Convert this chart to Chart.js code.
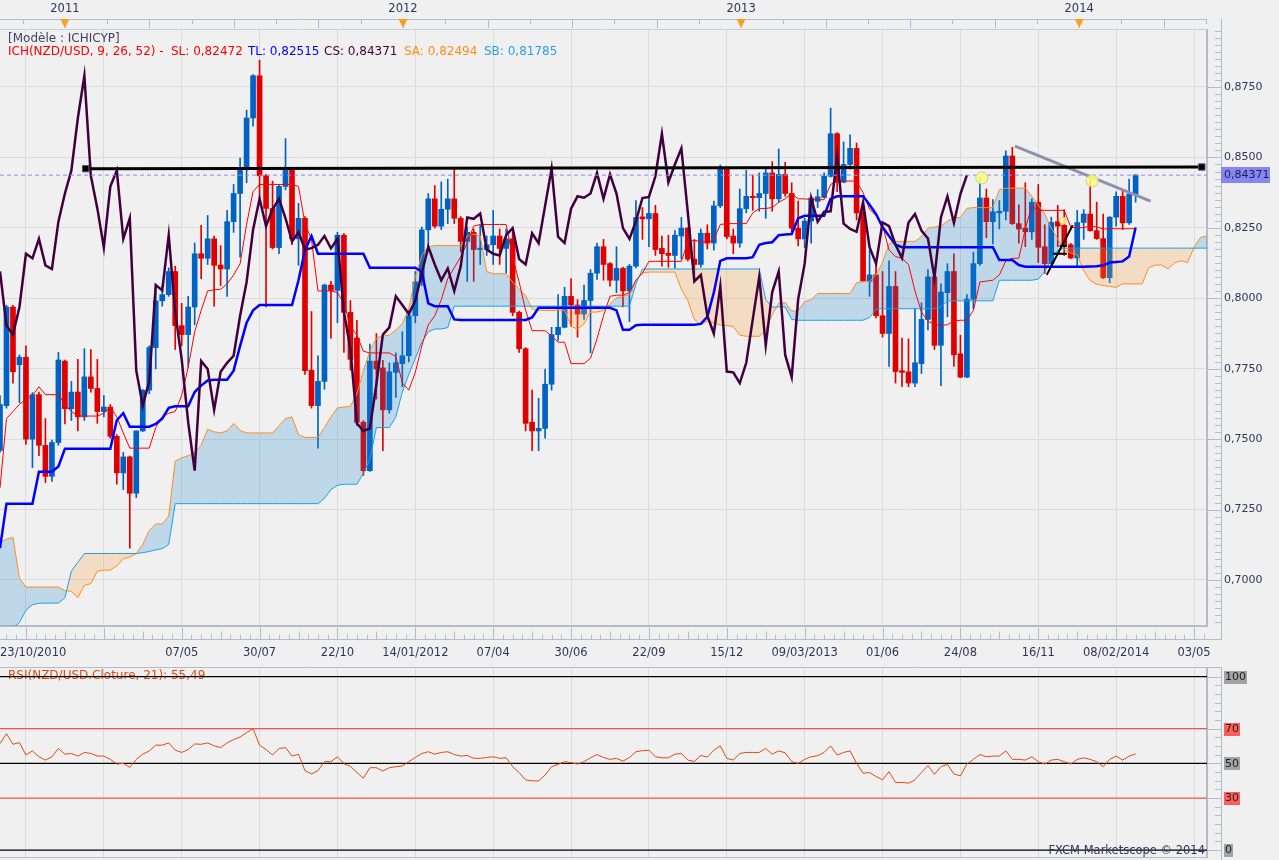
<!DOCTYPE html>
<html>
<head>
<meta charset="utf-8">
<script src="https://cdn.jsdelivr.net/npm/chart.js@4.4.1/dist/chart.umd.min.js"></script>
<style>
html, body { margin: 0; padding: 0; background: #f0f0f0; overflow: hidden; }
canvas { display: block; }
</style>
</head>
<body>
<canvas id="main" width="1279" height="660"></canvas>
<canvas id="rsi" width="1279" height="200"></canvas>
<script>
// weekly NZD/USD candles, first bar = week of 23/10/2010
const opens = [
  .7460, .7619, .7969, .7764, .7791, .7500, .7658, .7478, .7368, .7488,
  .7777, .7608, .7667, .7579, .7721, .7680, .7598, .7614, .7510, .7380,
  .7437, .7308, .7529, .7674, .7825, .7991, .8013, .8095, .7903, .7871,
  .7969, .8158, .8142, .8211, .8118, .8104, .8272, .8372, .8463, .8640,
  .8790, .8435, .8319, .8180, .8397, .8454, .8211, .8284, .7745, .7619,
  .7705, .8047, .8028, .8224, .7950, .7859, .7560, .7388, .7777, .7753,
  .7604, .7737, .7768, .7796, .7938, .8058, .8243, .8353, .8256, .8316,
  .8353, .8284, .8202, .8234, .8173, .8173, .8190, .8221, .8177, .8211,
  .7950, .7821, .7560, .7529, .7538, .7695, .7871, .7897, .8007, .7976,
  .7944, .7992, .8089, .8183, .8123, .8064, .8106, .8026, .8114, .8289,
  .8282, .8301, .8177, .8160, .8152, .8221, .8249, .8139, .8120, .8231,
  .8196, .8328, .8460, .8221, .8196, .8318, .8362, .8357, .8372, .8445,
  .8353, .8440, .8372, .8249, .8211, .8274, .8344, .8358, .8433, .8584,
  .8412, .8475, .8532, .8303, .8060, .8083, .7938, .7875, .8042, .7743,
  .7739, .7699, .7768, .7925, .8076, .7833, .8020, .8095, .7803, .7720,
  .7997, .8123, .8356, .8272, .8303, .8309, .8505, .8265, .8249, .8236,
  .8341, .8183, .8123, .8272, .8259, .8190, .8143, .8269, .8299, .8240,
  .8212, .8073, .8288, .8362, .8268, .8370
];
const highs = [
  .7655, .7975, .7975, .7799, .7831, .7665, .7667, .7573, .7497, .7808,
  .7781, .7705, .7783, .7821, .7818, .7783, .7655, .7623, .7516, .7453,
  .7440, .7530, .7676, .7831, .8045, .8045, .8108, .8114, .7982, .8007,
  .8196, .8259, .8294, .8221, .8187, .8312, .8404, .8498, .8668, .8794,
  .8845, .8440, .8416, .8404, .8567, .8460, .8337, .8290, .7953, .7796,
  .8050, .8060, .8234, .8230, .7992, .7922, .7566, .7837, .7875, .7780,
  .7771, .7806, .7881, .7957, .8095, .8253, .8372, .8400, .8413, .8423,
  .8460, .8290, .8253, .8246, .8259, .8221, .8312, .8246, .8246, .8234,
  .7955, .7825, .7674, .7645, .7749, .7897, .8013, .8039, .8070, .7995,
  .8047, .8102, .8196, .8209, .8127, .8183, .8111, .8120, .8347, .8322,
  .8360, .8330, .8221, .8224, .8240, .8287, .8252, .8209, .8246, .8261,
  .8345, .8473, .8463, .8246, .8388, .8454, .8438, .8445, .8460, .8485,
  .8530, .8483, .8410, .8345, .8284, .8360, .8385, .8445, .8675, .8588,
  .8555, .8580, .8551, .8322, .8171, .8127, .8095, .8133, .8095, .7859,
  .7856, .7963, .7984, .8102, .8080, .8051, .8123, .8158, .7869, .8013,
  .8164, .8429, .8388, .8350, .8347, .8523, .8536, .8332, .8410, .8353,
  .8404, .8261, .8288, .8330, .8315, .8195, .8312, .8315, .8423, .8341,
  .8299, .8290, .8378, .8382, .8423, .8440
];
const lows = [
  .7453, .7610, .7699, .7629, .7481, .7399, .7441, .7346, .7350, .7478,
  .7554, .7566, .7529, .7566, .7667, .7556, .7579, .7503, .7340, .7321,
  .7113, .7292, .7527, .7661, .7749, .7972, .8007, .7818, .7831, .7755,
  .7906, .8070, .8120, .7972, .8045, .8007, .8234, .8146, .8410, .8611,
  .8341, .7969, .8175, .8158, .8385, .8190, .8117, .7730, .7610, .7468,
  .7677, .7858, .7913, .7808, .7745, .7548, .7371, .7385, .7642, .7459,
  .7592, .7648, .7686, .7774, .7913, .8045, .8183, .8249, .8244, .8265,
  .8265, .8164, .8060, .8060, .8120, .8152, .8120, .8120, .8089, .7938,
  .7808, .7529, .7459, .7459, .7503, .7674, .7850, .7895, .7900, .7862,
  .7925, .7806, .8067, .8064, .8043, .8020, .7969, .7917, .8108, .8209,
  .8183, .8152, .8114, .8110, .8108, .8139, .8133, .8058, .8110, .8175,
  .8171, .8322, .8211, .8158, .8181, .8303, .8312, .8309, .8284, .8309,
  .8341, .8362, .8236, .8186, .8180, .8196, .8322, .8356, .8430, .8378,
  .8410, .8458, .8278, .8058, .8007, .7930, .7862, .7758, .7699, .7686,
  .7686, .7686, .7733, .7888, .7818, .7690, .7934, .7758, .7718, .7718,
  .7963, .8117, .8215, .8193, .8246, .8278, .8262, .8196, .8183, .8209,
  .8127, .8089, .8120, .8183, .8152, .8140, .8114, .8209, .8238, .8209,
  .8070, .8055, .8256, .8244, .8262, .8341
];
const closes = [
  .7623, .7969, .7739, .7791, .7500, .7658, .7478, .7368, .7488, .7781,
  .7608, .7667, .7579, .7721, .7680, .7598, .7614, .7510, .7380, .7437,
  .7308, .7529, .7674, .7825, .7991, .8013, .8095, .7903, .7871, .7969,
  .8158, .8142, .8211, .8117, .8104, .8272, .8372, .8454, .8640, .8790,
  .8435, .8319, .8180, .8397, .8454, .8211, .8284, .7743, .7619, .7705,
  .8047, .8028, .8224, .7950, .7783, .7560, .7388, .7777, .7749, .7604,
  .7739, .7771, .7796, .7938, .8058, .8243, .8353, .8256, .8316, .8353,
  .8284, .8202, .8234, .8173, .8178, .8190, .8221, .8177, .8211, .7950,
  .7821, .7556, .7529, .7538, .7695, .7871, .7897, .8007, .7976, .7944,
  .7992, .8089, .8183, .8120, .8064, .8106, .8026, .8114, .8287, .8282,
  .8301, .8173, .8158, .8152, .8224, .8249, .8139, .8120, .8231, .8196,
  .8328, .8460, .8219, .8196, .8318, .8362, .8357, .8372, .8445, .8353,
  .8440, .8372, .8249, .8211, .8274, .8356, .8360, .8433, .8584, .8412,
  .8475, .8532, .8303, .8060, .8083, .7938, .7875, .8042, .7740, .7737,
  .7699, .7771, .7925, .8076, .7833, .8022, .8095, .7799, .7720, .7997,
  .8123, .8356, .8272, .8307, .8309, .8505, .8265, .8246, .8236, .8341,
  .8181, .8123, .8269, .8256, .8190, .8143, .8269, .8299, .8240, .8212,
  .8073, .8288, .8362, .8268, .8370, .84371
];

// Ichimoku lines
const slLine = [ // red, thin
  .7327, .7573, .7598, .7623, .7642, .7655, .7686, .7658, .7658, .7658,
  .7623, .7598, .7582, .7582, .7582, .7582, .7592, .7614, .7579, .7522,
  .7468, .7468, .7468, .7468, .7541, .7579, .7592, .7598, .7655, .7755,
  .7881, .7957, .8026, .8030, .8032, .8051, .8083, .8123, .8262, .8379,
  .8404, .8404, .8404, .8404, .8404, .8404, .8397, .8265, .8209, .8026,
  .8026, .8026, .8020, .7982, .7900, .7869, .7812, .7806, .7806, .7806,
  .7806, .7793, .7699, .7674, .7737, .7831, .7906, .7938, .7995, .8070,
  .8108, .8148, .8196, .8256, .8262, .8262, .8262, .8262, .8262, .8146,
  .8058, .7957, .7885, .7885, .7885, .7866, .7844, .7844, .7768, .7768,
  .7768, .7787, .7856, .7938, .8007, .8011, .8011, .8020, .8064, .8089,
  .8131, .8131, .8131, .8131, .8131, .8131, .8202, .8205, .8202, .8196,
  .8209, .8262, .8265, .8265, .8265, .8265, .8303, .8318, .8319, .8322,
  .8341, .8353, .8372, .8353, .8353, .8350, .8350, .8350, .8404, .8416,
  .8416, .8416, .8416, .8375, .8316, .8294, .8259, .8171, .8148, .8142,
  .8120, .8026, .7951, .7919, .7906, .7904, .7906, .7919, .7922, .7922,
  .7957, .8058, .8061, .8064, .8083, .8133, .8142, .8142, .8246, .8328,
  .8312, .8312, .8312, .8312, .8312, .8253, .8250, .8251, .8256, .8253,
  .8246, .8247, .8247, .8247, .8247, .8247
];
const tlLine = [ // blue, thick
  .7113, .7271, .7271, .7271, .7271, .7271, .7384, .7384, .7384, .7403,
  .7466, .7466, .7466, .7466, .7466, .7466, .7466, .7466, .7567, .7592,
  .7544, .7544, .7544, .7544, .7554, .7573, .7611, .7617, .7617, .7617,
  .7667, .7690, .7708, .7711, .7711, .7711, .7743, .7831, .7913, .7957,
  .7976, .7976, .7976, .7976, .7976, .7976, .8064, .8171, .8221, .8158,
  .8158, .8158, .8158, .8158, .8158, .8158, .8158, .8108, .8108, .8108,
  .8108, .8108, .8108, .8108, .8108, .8095, .7982, .7972, .7972, .7972,
  .7925, .7923, .7923, .7923, .7923, .7923, .7923, .7923, .7923, .7923,
  .7923, .7923, .7932, .7966, .7966, .7966, .7966, .7966, .7966, .7966,
  .7966, .7966, .7966, .7966, .7966, .7957, .7888, .7888, .7904, .7906,
  .7906, .7906, .7906, .7906, .7906, .7906, .7906, .7906, .7909, .7934,
  .8020, .8133, .8142, .8142, .8142, .8142, .8146, .8190, .8196, .8199,
  .8224, .8226, .8228, .8284, .8293, .8293, .8293, .8293, .8353, .8362,
  .8362, .8362, .8362, .8362, .8332, .8299, .8253, .8221, .8190, .8181,
  .8181, .8181, .8181, .8181, .8181, .8181, .8181, .8181, .8181, .8181,
  .8181, .8181, .8181, .8181, .8136, .8136, .8136, .8118, .8112, .8112,
  .8112, .8112, .8112, .8112, .8112, .8112, .8112, .8112, .8113, .8114,
  .8117, .8127, .8129, .8131, .8148, .8251
];
const senkouA = [ // orange, runs 26 weeks past the last bar
  .7132, .7145, .7151, .7006, .6975, .6975, .6975, .6975, .6975, .6975,
  .6962, .6960, .6937, .6981, .6987, .7031, .7035, .7035, .7050, .7075,
  .7082, .7094, .7126, .7176, .7199, .7199, .7227, .7422, .7434, .7441,
  .7453, .7478, .7535, .7526, .7522, .7529, .7556, .7531, .7522, .7522,
  .7522, .7522, .7522, .7548, .7573, .7579, .7516, .7506, .7506, .7506,
  .7541, .7579, .7611, .7614, .7617, .7661, .7743, .7812, .7859, .7866,
  .7869, .7888, .7910, .7963, .8076, .8152, .8183, .8187, .8187, .8187,
  .8187, .8187, .8221, .8228, .8221, .8095, .8087, .8087, .8087, .8058,
  .8032, .8010, .7963, .7957, .7957, .7957, .7957, .7957, .7900, .7891,
  .7909, .7951, .7951, .7957, .7979, .8001, .8007, .8013, .8064, .8090,
  .8093, .8093, .8093, .8093, .8093, .8032, .7992, .7925, .7906, .7919,
  .7913, .7905, .7903, .7900, .7869, .7865, .7865, .7865, .7888, .7942,
  .7982, .7985, .7954, .7957, .7988, .7995, .8017, .8017, .8017, .8017,
  .8017, .8017, .8055, .8060, .8060, .8083, .8127, .8193, .8202, .8202,
  .8202, .8202, .8219, .8249, .8253, .8256, .8274, .8284, .8287, .8319,
  .8322, .8322, .8322, .8322, .8385, .8391, .8391, .8391, .8391, .8362,
  .8331, .8299, .8249, .8211, .8173, .8161, .8154, .8098, .8063, .8050,
  .8045, .8042, .8039, .8051, .8051, .8051, .8051, .8108, .8118, .8118,
  .8104, .8126, .8133, .8127, .8181, .8216, .8221
];
const senkouB = [ // light blue
  .6799, .6824, .6830, .6849, .6893, .6912, .6918, .6918, .6918, .6918,
  .6937, .7031, .7063, .7094, .7094, .7094, .7094, .7094, .7094, .7094,
  .7094, .7094, .7097, .7101, .7107, .7111, .7126, .7271, .7271, .7271,
  .7271, .7271, .7271, .7271, .7271, .7271, .7271, .7271, .7271, .7271,
  .7271, .7271, .7271, .7271, .7271, .7271, .7271, .7271, .7271, .7271,
  .7290, .7321, .7336, .7340, .7340, .7340, .7378, .7428, .7541, .7541,
  .7541, .7579, .7667, .7730, .7787, .7844, .7881, .7891, .7891, .7896,
  .7972, .7972, .7972, .7972, .7972, .7972, .7972, .7972, .7972, .7972,
  .7972, .7972, .7972, .7972, .7972, .7972, .7972, .7972, .7972, .7972,
  .7972, .7972, .7972, .7972, .7972, .7972, .7972, .7972, .8051, .8104,
  .8104, .8104, .8104, .8104, .8104, .8104, .8104, .8104, .8104, .8104,
  .8104, .8104, .8104, .8104, .8104, .8104, .8104, .8104, .7995, .7969,
  .7969, .7969, .7925, .7922, .7922, .7922, .7922, .7922, .7922, .7922,
  .7922, .7922, .7922, .7922, .7932, .7961, .7963, .7963, .7963, .7963,
  .7963, .7963, .7963, .7963, .7963, .7969, .7990, .7991, .7991, .7991,
  .7991, .7991, .7991, .7991, .8064, .8064, .8064, .8064, .8064, .8064,
  .8068, .8095, .8139, .8171, .8178, .8178, .8178, .8178, .8178, .8178,
  .8178, .8178, .8178, .8178, .8178, .8178, .8178, .8178, .8178, .8178,
  .8178, .8178, .8178, .8178, .8178, .8178, .8178
];
const lagShift = 26; // CS = closes drawn 26 weeks back

const rsiValues = [
  61.4, 67.1, 61.0, 62.0, 54.8, 57.2, 53.8, 51.9, 53.8, 58.6,
  55.3, 55.7, 54.2, 56.3, 55.7, 54.2, 54.2, 52.3, 49.6, 50.0,
  47.7, 52.3, 55.3, 57.2, 60.5, 60.5, 61.8, 57.6, 56.3, 58.0,
  61.2, 61.0, 61.8, 60.1, 59.1, 61.8, 63.7, 65.2, 67.7, 70.0,
  60.5, 58.0, 54.8, 58.6, 59.1, 54.2, 55.3, 45.8, 43.9, 45.8,
  51.0, 51.0, 53.8, 49.8, 48.3, 44.7, 41.4, 47.5, 47.5, 45.6,
  47.5, 48.1, 48.5, 51.0, 53.4, 55.7, 56.7, 55.3, 56.3, 56.7,
  55.1, 54.2, 54.6, 52.9, 52.9, 53.4, 53.8, 52.9, 53.2, 48.1,
  44.7, 40.5, 39.9, 39.9, 43.3, 48.1, 49.4, 51.0, 50.4, 49.6,
  51.0, 53.2, 55.1, 53.4, 52.3, 52.9, 51.3, 53.4, 56.7, 57.3,
  57.6, 53.8, 53.2, 53.2, 55.3, 55.7, 51.9, 51.1, 54.6, 53.6,
  57.6, 60.1, 52.9, 51.9, 55.7, 56.3, 56.3, 56.3, 58.6, 55.3,
  57.2, 56.1, 51.0, 50.0, 52.3, 53.8, 54.4, 56.3, 60.1, 54.8,
  56.3, 57.2, 50.0, 44.3, 44.7, 42.4, 40.5, 45.2, 39.0, 39.0,
  38.6, 40.5, 44.7, 48.7, 43.7, 48.1, 49.4, 43.9, 42.8, 49.6,
  52.3, 55.1, 53.8, 54.2, 54.2, 57.2, 52.3, 52.3, 51.9, 53.8,
  51.0, 49.6, 51.9, 52.3, 51.0, 49.6, 52.3, 53.2, 52.3, 51.0,
  48.1, 52.3, 54.2, 51.9, 54.2, 55.49
];
const rsiLevels = [100, 70, 50, 30, 0];
const rsiLevelColors = ['#000000', '#ff4d4d', '#000000', '#ff4d4d', '#000000'];
const rsiLevelBoxes = ['#a3a3a3', '#ff5c5c', '#a3a3a3', '#ff5c5c', '#a3a3a3'];

// hand-drawn objects on the chart (week index, price)
const resistance = [{x: 13.2, y: .8460}, {x: 185.2, y: .8466}];
const downTrend = [{x: 156.4, y: .8540}, {x: 177.3, y: .8345}];
const penMarks = [
  {x: 161.3, y: .8083}, {x: 165.3, y: .8259}, {x: 165.3, y: null},
  {x: 162.3, y: .8158}, {x: 164.4, y: .8158}, {x: 164.4, y: null},
  {x: 163.3, y: .8186}, {x: 164.4, y: .8186}
];
const yellowDots = [{x: 151.3, y: .8427}, {x: 168.3, y: .8417}, {x: 163.8, y: .8275}];
const lastPrice = 0.84371;

// axes
const weekCount = 187;
const weekIdx = Array.from({length: weekCount}, (_, i) => i);
const gridWeeks = [4, 16, 28, 40, 52, 64, 76, 88, 100, 112, 124, 136, 148, 160, 172, 184];
const dateTickWeeks = [0, 28, 40, 52, 64, 76, 88, 100, 112, 124, 136, 148, 160, 172, 184];
const dateTicks = ['23/10/2010', '07/05', '30/07', '22/10', '14/01/2012', '07/04', '30/06',
  '22/09', '15/12', '09/03/2013', '01/06', '24/08', '16/11', '08/02/2014', '03/05'];
const yearWeeks = [10, 62.1, 114.2, 166.3];
const yearLabels = ['2011', '2012', '2013', '2014'];
const priceTicks = [0.7000, 0.7250, 0.7500, 0.7750, 0.8000, 0.8250, 0.8500, 0.8750];

const UP = '#0062c4', DOWN = '#e00000';
const BAND = '#b4bccb', TXT = '#33335a', GRID = '#dcdcdc';
const FONT = '11px "DejaVu Sans"';
const FONT_M = '11.5px "DejaVu Sans"';
const FONT_L = '12px "DejaVu Sans"';

Chart.defaults.font.family = '"DejaVu Sans"';
Chart.defaults.font.size = 11;

const candleColors = closes.map((c, i) => c >= opens[i] ? UP : DOWN);

function seg(ctx, x1, y1, x2, y2, color, w) {
  ctx.strokeStyle = color;
  ctx.lineWidth = w;
  ctx.beginPath();
  ctx.moveTo(x1, y1);
  ctx.lineTo(x2, y2);
  ctx.stroke();
}

const mainDecor = {
  id: 'mainDecor',
  afterDraw(chart) {
    const {ctx, chartArea: a, scales: {x, y}} = chart;
    ctx.save();
    ctx.textBaseline = 'middle';

    // top time band
    seg(ctx, 0, 19.5, a.right, 19.5, BAND, 1);
    seg(ctx, 0, a.top - 0.5, a.right, a.top - 0.5, '#c8cdd8', 1);
    const yStep = (yearWeeks[1] - yearWeeks[0]) / 8;
    for (let k = -8; k < 40; k++) {
      const w = yearWeeks[0] + k * yStep;
      if (w < 0 || w > weekCount - 1) continue;
      const px = Math.round(x.getPixelForValue(w)) + 0.5;
      seg(ctx, px, 19.5, px, Math.abs(k % 2) === 0 ? 28 : 24, BAND, 1);
    }
    ctx.font = FONT_M;
    ctx.textAlign = 'center';
    yearWeeks.forEach((w, i) => {
      const px = x.getPixelForValue(w);
      ctx.fillStyle = '#f5a020';
      ctx.beginPath();
      ctx.moveTo(px - 4.5, 19);
      ctx.lineTo(px + 4.5, 19);
      ctx.lineTo(px, 28);
      ctx.closePath();
      ctx.fill();
      ctx.fillStyle = TXT;
      ctx.fillText(yearLabels[i], px, 9);
    });

    // bottom date band
    const axY = 639.5;
    seg(ctx, 0, axY, 1222, axY, BAND, 1);
    for (let k = -8; k < 140; k++) {
      const w = gridWeeks[0] + k * 1.5;
      if (w < 0 || w > weekCount - 1) continue;
      const m = ((k % 8) + 8) % 8;
      const px = Math.round(x.getPixelForValue(w)) + 0.5;
      seg(ctx, px, axY, px, axY - (m === 0 ? 12 : (m === 4 ? 8 : 5)), BAND, 1);
    }
    ctx.fillStyle = TXT;
    dateTickWeeks.forEach((w, i) => {
      ctx.textAlign = i === 0 ? 'left' : 'center';
      ctx.fillText(dateTicks[i], i === 0 ? 0 : x.getPixelForValue(w), 653);
    });

    // right price band
    seg(ctx, 1221.5, 19, 1221.5, 640, BAND, 1);
    for (let k = 274; k <= 358; k++) {
      const py = Math.round(y.getPixelForValue(k * 0.0025)) + 0.5;
      seg(ctx, k % 10 === 0 ? a.right : 1215, py, 1221, py, BAND, 1);
    }
    ctx.font = FONT;
    const lp = y.getPixelForValue(lastPrice);
    ctx.fillStyle = '#8686f2';
    ctx.fillRect(1221, Math.round(lp) - 8, 49, 16);
    ctx.fillStyle = '#1e1e50';
    ctx.textAlign = 'left';
    ctx.fillText(lastPrice.toFixed(5).replace('.', ','), 1224, lp + 0.5);

    // indicator legend
    ctx.font = FONT_L;
    ctx.fillStyle = '#404065';
    ctx.fillText('[Modèle : ICHICYP]', 8, 39);
    const legend = [
      ['ICH(NZD/USD, 9, 26, 52) -', 8, '#ff0000'],
      ['SL: 0,82472', 171, '#ff0000'],
      ['TL: 0,82515', 248, '#0000ff'],
      ['CS: 0,84371', 324, '#400030'],
      ['SA: 0,82494', 404, '#ff8c1a'],
      ['SB: 0,81785', 484, '#2b9fe6']
    ];
    legend.forEach(([t, lx, c]) => { ctx.fillStyle = c; ctx.fillText(t, lx, 52); });
    ctx.restore();
  }
};

const lineDs = (data, color, width, order, extra) => Object.assign({
  type: 'line', data, borderColor: color, borderWidth: width,
  pointRadius: 0, tension: 0, fill: false, order
}, extra || {});

new Chart(document.getElementById('main'), {
  type: 'bar',
  data: {
    labels: weekIdx,
    datasets: [
      {type: 'bar', data: highs.map((h, i) => [lows[i], h]), backgroundColor: candleColors,
        barThickness: 1, grouped: false, order: 9},
      {type: 'bar', data: closes.map((c, i) => [Math.min(opens[i], c), Math.max(opens[i], c)]),
        backgroundColor: candleColors, barThickness: 5, minBarLength: 1, grouped: false, order: 8},
      lineDs(senkouA, '#ff8c1a', 1, 7, {fill: {target: '+1', above: 'rgba(20,130,210,0.22)', below: 'rgba(255,160,60,0.24)'}}),
      lineDs(senkouB, '#1aa0e8', 1, 6),
      lineDs(slLine, '#ff0000', 1, 5),
      lineDs(tlLine, '#0000ff', 2.5, 4),
      lineDs(closes.slice(lagShift), '#400040', 2.5, 3),
      lineDs([{x: 0, y: lastPrice}, {x: weekCount - 1, y: lastPrice}], '#8a8af0', 1, 2, {borderDash: [4, 3]}),
      lineDs(resistance, '#000000', 3, 1, {pointRadius: 4.5, pointStyle: 'rect',
        pointBackgroundColor: '#000000', pointBorderColor: '#555577', pointBorderWidth: 1}),
      lineDs(downTrend, '#9090ac', 3, 1),
      lineDs(penMarks, '#000000', 2, 1),
      lineDs(yellowDots, 'rgba(0,0,0,0)', 0, 0, {showLine: false, pointRadius: [6, 6, 3.5],
        pointBackgroundColor: 'rgba(255,255,120,0.85)', pointBorderColor: '#c8c8a0', pointBorderWidth: 1})
    ]
  },
  options: {
    responsive: false,
    animation: false,
    events: [],
    layout: {autoPadding: false, padding: {top: 30, left: 0, right: 0, bottom: 0}},
    plugins: {legend: {display: false}, tooltip: {enabled: false}},
    scales: {
      x: {
        type: 'linear', min: 0, max: weekCount - 1, offset: false,
        afterBuildTicks: s => { s.ticks = gridWeeks.map(v => ({value: v})); },
        afterFit: s => { s.height = 34; s.paddingLeft = 0; s.paddingRight = 0; },
        grid: {color: GRID, drawTicks: false, offset: false},
        border: {display: true, color: BAND, width: 2},
        ticks: {display: false}
      },
      y: {
        type: 'linear', position: 'right', min: 0.68367, max: 0.89523, beginAtZero: false,
        afterBuildTicks: s => { s.ticks = priceTicks.map(v => ({value: v})); },
        afterFit: s => { s.width = 72; },
        grid: {color: GRID, drawTicks: false},
        border: {display: true, color: BAND, width: 2},
        ticks: {padding: 17, color: TXT, callback: v => v.toFixed(4).replace('.', ',')}
      }
    }
  },
  plugins: [mainDecor]
});

const rsiDecor = {
  id: 'rsiDecor',
  beforeDatasetsDraw(chart) {
    const {ctx} = chart;
    ctx.save();
    ctx.font = FONT_L;
    ctx.textBaseline = 'middle';
    ctx.fillStyle = '#e04a10';
    ctx.fillText('RSI(NZD/USD.Cloture, 21): 55,49', 8, 15.5);
    ctx.restore();
  },
  afterDraw(chart) {
    const {ctx, chartArea: a, scales: {y}} = chart;
    ctx.save();
    ctx.font = FONT;
    ctx.textBaseline = 'middle';
    seg(ctx, 0, a.top - 0.5, 1222, a.top - 0.5, BAND, 1);
    seg(ctx, 1221.5, a.top, 1221.5, 200, BAND, 1);
    for (let v = 0; v <= 100; v += 5) {
      const py = Math.round(y.getPixelForValue(v)) + 0.5;
      seg(ctx, rsiLevels.includes(v) ? a.right : 1215, py, 1221, py, BAND, 1);
    }
    rsiLevels.forEach((v, i) => {
      const py = y.getPixelForValue(v);
      const t = String(v);
      const w = ctx.measureText(t).width;
      ctx.fillStyle = rsiLevelBoxes[i];
      ctx.fillRect(1224, Math.round(py) - 6, w + 2, 13);
      ctx.fillStyle = '#222222';
      ctx.fillText(t, 1225, py + 0.5);
    });
    ctx.font = FONT_M;
    ctx.fillStyle = TXT;
    ctx.textAlign = 'right';
    ctx.fillText('FXCM Marketscope © 2014', 1205, 191);
    ctx.restore();
  }
};

new Chart(document.getElementById('rsi'), {
  type: 'line',
  data: {
    labels: weekIdx,
    datasets: [
      lineDs(rsiValues, '#e04a10', 1, 0),
      ...rsiLevels.map((v, i) => lineDs([{x: 0, y: v}, {x: weekCount - 1, y: v}],
        rsiLevelColors[i], 1.2, 1))
    ]
  },
  options: {
    responsive: false,
    animation: false,
    events: [],
    layout: {autoPadding: false, padding: {top: 8, left: 0, right: 0, bottom: 0}},
    plugins: {legend: {display: false}, tooltip: {enabled: false}},
    scales: {
      x: {
        type: 'linear', min: 0, max: weekCount - 1, offset: false,
        afterBuildTicks: s => { s.ticks = gridWeeks.map(v => ({value: v})); },
        afterFit: s => { s.height = 3; s.paddingLeft = 0; s.paddingRight = 0; },
        grid: {color: GRID, drawTicks: false},
        border: {display: true, color: BAND, width: 1},
        ticks: {display: false}
      },
      y: {
        type: 'linear', position: 'right', min: -4, max: 105,
        afterBuildTicks: s => { s.ticks = rsiLevels.map(v => ({value: v})); },
        afterFit: s => { s.width = 72; },
        grid: {display: false},
        border: {display: true, color: BAND, width: 2},
        ticks: {display: false}
      }
    }
  },
  plugins: [rsiDecor]
});
</script>
</body>
</html>
